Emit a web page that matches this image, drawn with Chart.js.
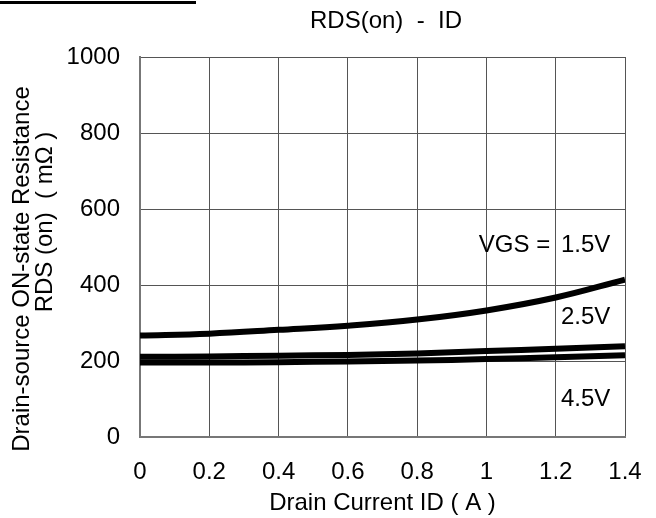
<!DOCTYPE html>
<html>
<head>
<meta charset="utf-8">
<script src="https://cdn.jsdelivr.net/npm/chart.js@4"></script>
<style>
  body { margin: 0; background: #fff; }
  #wrap { position: relative; width: 656px; height: 518px; }
  #topline { position: absolute; left: 0; top: 1px; width: 196px; height: 3px; background: #000; }
</style>
</head>
<body>
<div id="wrap">
  <div id="topline"></div>
  <canvas id="rdsChart" width="656" height="518"></canvas>
</div>
<script>
// Drain current (A)
const corrente = [0, 0.2, 0.4, 0.6, 0.8, 1.0, 1.2, 1.4];
// RDS(on) (mOhm) per VGS
const vgs15 = [267, 272, 282, 293, 309, 333, 367, 414];
const vgs25 = [211, 212, 214, 216, 220, 226, 232, 239];
const vgs45 = [196, 196, 197, 199, 201, 205, 210, 215];
const xTicks = [0, 0.2, 0.4, 0.6, 0.8, 1, 1.2, 1.4];
const yTicks = [0, 200, 400, 600, 800, 1000];

const fonte = "'Liberation Sans', Arial, sans-serif";
Chart.defaults.font.family = fonte;
Chart.defaults.font.size = 24;
Chart.defaults.color = '#000';

function pontos(valores) {
  return corrente.map((x, i) => ({ x: x, y: valores[i] }));
}

function serie(valores) {
  return {
    data: pontos(valores),
    borderColor: '#000',
    borderWidth: 6,
    pointRadius: 0,
    tension: 0.4,
    showLine: true,
    fill: false
  };
}

// rotulos de VGS (posicao em unidades dos eixos)
const rotulos = [
  { text: 'VGS =', x: 1.184, y: 505, align: 'right' },
  { text: '1.5V', x: 1.215, y: 505, align: 'left' },
  { text: '2.5V', x: 1.215, y: 314, align: 'left' },
  { text: '4.5V', x: 1.215, y: 100, align: 'left' }
];

const textoPlugin = {
  id: 'textoPlugin',
  afterDraw(chart) {
    const ctx = chart.ctx;
    const sx = chart.scales.x, sy = chart.scales.y;
    ctx.save();
    ctx.fillStyle = '#000';
    ctx.font = '24px ' + fonte;
    ctx.textBaseline = 'middle';
    rotulos.forEach(r => {
      ctx.textAlign = r.align;
      ctx.fillText(r.text, sx.getPixelForValue(r.x), sy.getPixelForValue(r.y));
    });
    ctx.textAlign = 'center';
    ctx.fillText('RDS(on)  -  ID', 386, 21);
    // titulo do eixo y, duas linhas
    ctx.save();
    ctx.translate(22, 269);
    ctx.rotate(-Math.PI / 2);
    ctx.fillText('Drain-source ON-state Resistance', 0, 0);
    ctx.restore();
    ctx.save();
    ctx.translate(45, 222);
    ctx.rotate(-Math.PI / 2);
    ctx.fillText('RDS (on)  ( m\u03A9 )', 0, 0);
    ctx.restore();
    ctx.restore();
  }
};

const canvas = document.getElementById('rdsChart');
new Chart(canvas, {
  type: 'scatter',
  data: {
    datasets: [serie(vgs15), serie(vgs25), serie(vgs45)]
  },
  options: {
    responsive: false,
    animation: false,
    layout: { padding: { top: 57, right: 31, left: 0, bottom: 0 } },
    plugins: {
      legend: { display: false },
      tooltip: { enabled: false }
    },
    scales: {
      x: {
        type: 'linear',
        min: 0,
        max: 1.4,
        afterBuildTicks: s => { s.ticks = xTicks.map(v => ({ value: v })); },
        afterFit: s => { s.height = 81; s.paddingRight = 0; },
        ticks: {
          padding: 21,
          callback: v => String(v)
        },
        grid: { color: '#555', lineWidth: 1, drawTicks: false },
        border: { color: '#777', width: 2 },
        title: {
          display: true,
          text: 'Drain Current ID ( A )',
          padding: { top: 0, bottom: 0 }
        }
      },
      y: {
        min: 0,
        max: 1000,
        afterBuildTicks: s => { s.ticks = yTicks.map(v => ({ value: v })); },
        afterFit: s => { s.width = 140; },
        ticks: { padding: 20, callback: v => String(v) },
        grid: { color: '#555', lineWidth: 1, drawTicks: false },
        border: { color: '#777', width: 2 }
      }
    }
  },
  plugins: [textoPlugin]
});
</script>
</body>
</html>
